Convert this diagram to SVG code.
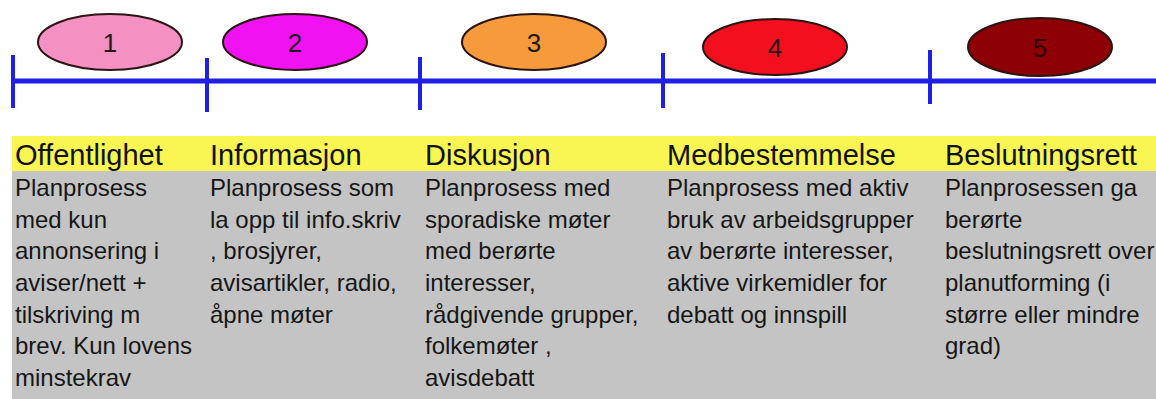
<svg xmlns="http://www.w3.org/2000/svg" width="1156" height="399" viewBox="0 0 1156 399">
<style>
.ell{stroke:#2a1414;stroke-width:2}
.num{font-family:"Liberation Sans",Arial,sans-serif;font-size:26px;fill:#221818;text-anchor:middle}
.axis{stroke:#1f1fe6;stroke-width:5;fill:none}
.tick{stroke:#1f1fe6;stroke-width:4;fill:none}
.hd{font-family:"Liberation Sans",Arial,sans-serif;font-size:29px;fill:#111}
.bd{font-family:"Liberation Sans",Arial,sans-serif;font-size:24px;fill:#161616}
</style>
<rect width="1156" height="399" fill="#ffffff"/>
<rect id="band-yellow" x="12" y="136" width="1144" height="35" fill="#f9f552"/>
<rect id="band-gray" x="12" y="171" width="1144" height="228" fill="#c4c4c4"/>
<g id="connectors">
<line class="axis" x1="13" y1="81" x2="1156" y2="81"/>
<line class="tick" x1="13" y1="55" x2="13" y2="108"/>
<line class="tick" x1="207" y1="58" x2="207" y2="112"/>
<line class="tick" x1="420" y1="57" x2="420" y2="110"/>
<line class="tick" x1="663" y1="53" x2="663" y2="108"/>
<line class="tick" x1="930" y1="50" x2="930" y2="104"/>
</g>
<g id="node1"><ellipse class="ell" cx="110" cy="42" rx="72" ry="28" fill="#f590c2"/><text class="num" x="110" y="52">1</text></g>
<g id="node2"><ellipse class="ell" cx="295" cy="42" rx="72" ry="28" fill="#f012f0"/><text class="num" x="295" y="52">2</text></g>
<g id="node3"><ellipse class="ell" cx="534" cy="42" rx="72" ry="28" fill="#f79a3c"/><text class="num" x="534" y="52">3</text></g>
<g id="node4"><ellipse class="ell" cx="775" cy="47" rx="72" ry="28" fill="#f2101e"/><text class="num" x="775" y="57">4</text></g>
<g id="node5"><ellipse class="ell" cx="1040" cy="47" rx="72" ry="29" fill="#8c0006"/><text class="num" x="1040" y="57" style="fill:#2a0000">5</text></g>
<g id="col1">
<text class="hd" x="15" y="165">Offentlighet</text>
<text class="bd"><tspan x="15" y="196">Planprosess</tspan><tspan x="15" y="228">med kun</tspan><tspan x="15" y="259">annonsering i</tspan><tspan x="15" y="291">aviser/nett +</tspan><tspan x="15" y="323">tilskriving m</tspan><tspan x="15" y="354">brev. Kun lovens</tspan><tspan x="15" y="386">minstekrav</tspan></text>
</g>
<g id="col2">
<text class="hd" x="210" y="165">Informasjon</text>
<text class="bd"><tspan x="210" y="196">Planprosess som</tspan><tspan x="210" y="228">la opp til info.skriv</tspan><tspan x="210" y="259">, brosjyrer,</tspan><tspan x="210" y="291">avisartikler, radio,</tspan><tspan x="210" y="323">åpne møter</tspan></text>
</g>
<g id="col3">
<text class="hd" x="425" y="165">Diskusjon</text>
<text class="bd"><tspan x="425" y="196">Planprosess med</tspan><tspan x="425" y="228">sporadiske møter</tspan><tspan x="425" y="259">med berørte</tspan><tspan x="425" y="291">interesser,</tspan><tspan x="425" y="323">rådgivende grupper,</tspan><tspan x="425" y="354">folkemøter ,</tspan><tspan x="425" y="386">avisdebatt</tspan></text>
</g>
<g id="col4">
<text class="hd" x="667" y="165">Medbestemmelse</text>
<text class="bd"><tspan x="667" y="196">Planprosess med aktiv</tspan><tspan x="667" y="228">bruk av arbeidsgrupper</tspan><tspan x="667" y="259">av berørte interesser,</tspan><tspan x="667" y="291">aktive virkemidler for</tspan><tspan x="667" y="323">debatt og innspill</tspan></text>
</g>
<g id="col5">
<text class="hd" x="945" y="165">Beslutningsrett</text>
<text class="bd"><tspan x="945" y="196">Planprosessen ga</tspan><tspan x="945" y="228">berørte</tspan><tspan x="945" y="259">beslutningsrett over</tspan><tspan x="945" y="291">planutforming (i</tspan><tspan x="945" y="323">større eller mindre</tspan><tspan x="945" y="354">grad)</tspan></text>
</g>
</svg>
